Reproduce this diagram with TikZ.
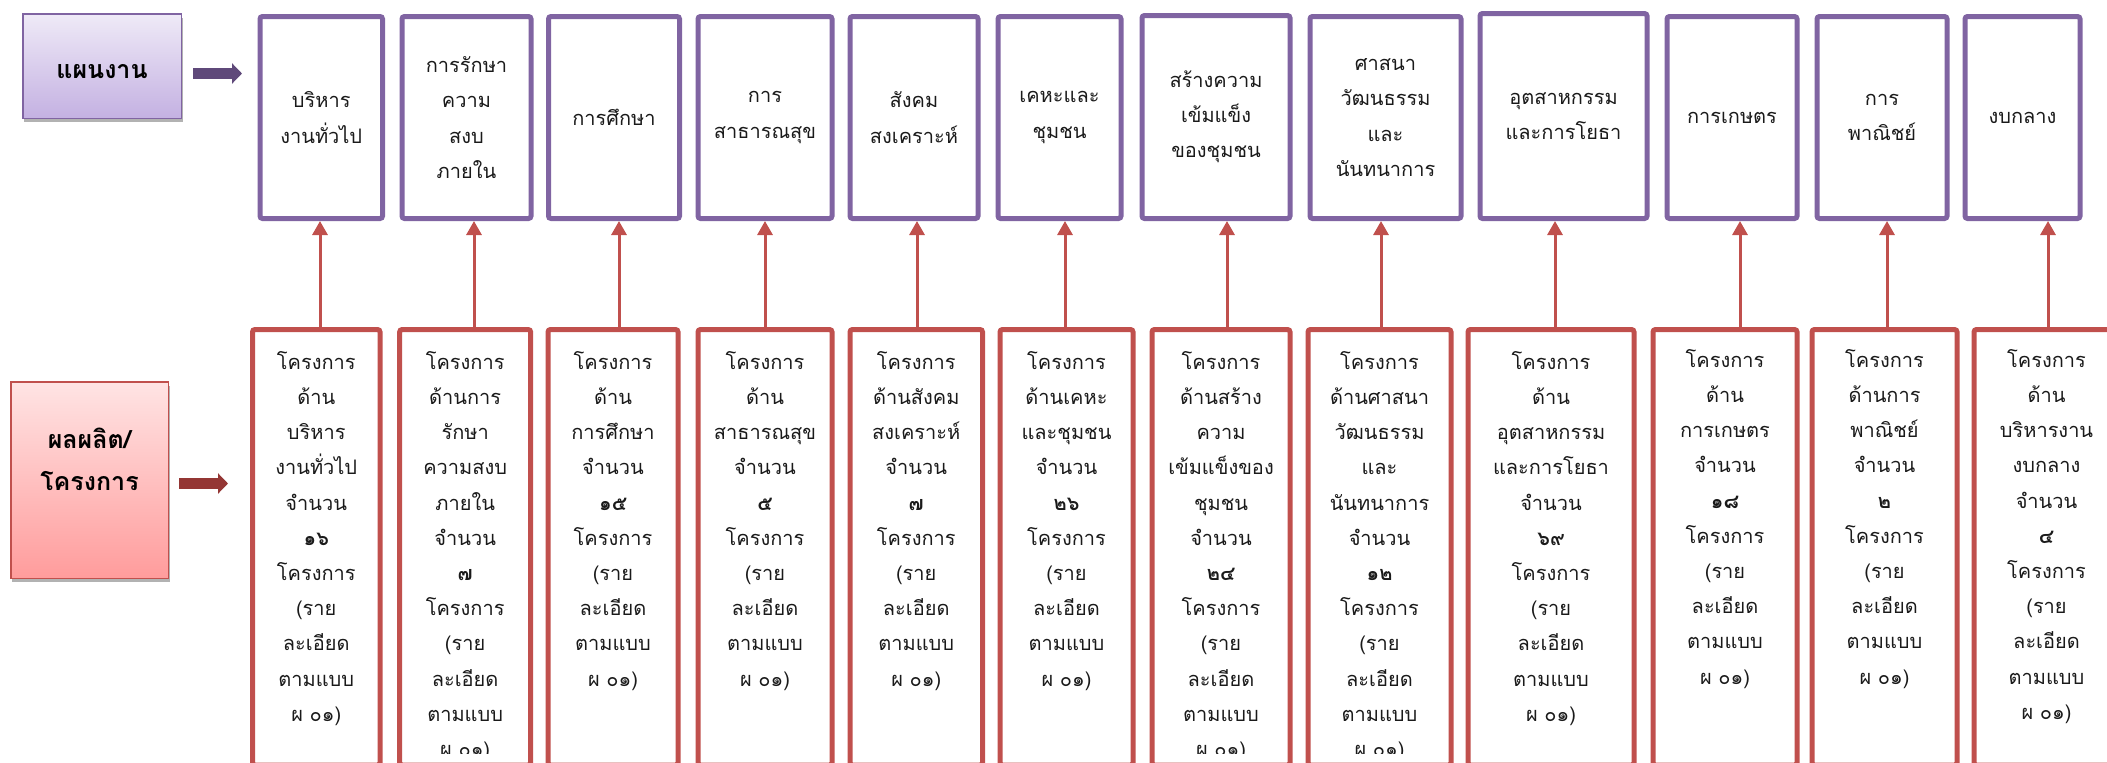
\documentclass[tikz,border=0pt]{standalone}
\usepackage{fontspec}
\newfontfamily\thaifont[Script=Thai]{Loma}
\usetikzlibrary{arrows.meta,shadows}
\definecolor{pbord}{HTML}{8064A2}
\definecolor{rbord}{HTML}{C0504D}
\definecolor{parrow}{HTML}{5F497A}
\definecolor{rarrow}{HTML}{943634}
\definecolor{ptop}{HTML}{EFEAF7}
\definecolor{pbot}{HTML}{C4B1E2}
\definecolor{rtop}{HTML}{FFE4E4}
\definecolor{rbot}{HTML}{FF9C9C}
\definecolor{txt}{HTML}{1A1A1A}
\tikzset{
  body/.style={font=\thaifont\fontsize{20}{35.2}\selectfont, text=txt},
  tbox/.style={rectangle, draw=pbord, line width=5pt, rounded corners=2.5pt, align=center, body, inner sep=0pt},
  bbox/.style={rectangle, draw=rbord, line width=5pt, rounded corners=2.5pt, inner sep=0pt, minimum height=435.5pt},
  btext/.style={body, anchor=north, align=center, inner sep=0pt},
  conn/.style={draw=rbord, line width=3pt, -{Triangle[width=15pt,length=14pt]}},
  lblbox/.style={rectangle, line width=1.5pt, align=center, inner sep=0pt,
    font=\thaifont\bfseries\fontsize{25}{42}\selectfont, text=black,
    drop shadow={shadow xshift=1.5pt, shadow yshift=-4pt, fill=black, opacity=0.3}},
  blockarrow/.style={line width=11pt, -{Triangle[width=20pt,length=10pt]}}
}
\begin{document}
\begin{tikzpicture}[x=1pt,y=-1pt]
\useasboundingbox (0,0) rectangle (2107,763);
\clip (0,0) rectangle (2107,763);

% left labels
\node[lblbox, draw=pbord, top color=ptop, bottom color=pbot, minimum width=158.5pt, minimum height=104.5pt] (plan) at (102,66) {\raisebox{-6pt}[\height][\depth]{แผนงาน}};
\node[lblbox, draw=rbord, top color=rtop, bottom color=rbot, minimum width=157.5pt, minimum height=196.5pt] (prod) at (89.5,480) {ผลผลิต/\\โครงการ\\\mbox{}};

\coordinate (pa) at (193,73.5);
\coordinate (pb) at (242,73.5);
\coordinate (ra) at (179,483.5);
\coordinate (rb) at (228,483.5);
\draw[blockarrow, draw=parrow] (pa) -- (pb);
\draw[blockarrow, draw=rarrow] (ra) -- (rb);

% top boxes
\node[tbox, minimum width=122.5pt, minimum height=202pt] (t1) at (321.25,117.5) {บริหาร\\งานทั่วไป};
\node[tbox, minimum width=129pt, minimum height=202pt] (t2) at (466.5,117.5) {การรักษา\\ความ\\สงบ\\ภายใน};
\node[tbox, minimum width=131pt, minimum height=202pt] (t3) at (614,117.5) {การศึกษา};
\node[tbox, minimum width=134pt, minimum height=202pt] (t4) at (765,117.5) {การ\\สาธารณสุข};
\node[tbox, minimum width=128pt, minimum height=202pt] (t5) at (914,117.5) {สังคม\\สงเคราะห์};
\node[tbox, minimum width=123pt, minimum height=202pt] (t6) at (1059.5,117.5) {เคหะและ\\ชุมชน};
\node[tbox, minimum width=148pt, minimum height=203pt] (t7) at (1216,117) {สร้างความ\\เข้มแข็ง\\ของชุมชน};
\node[tbox, minimum width=151pt, minimum height=202pt] (t8) at (1385.5,117.5) {ศาสนา\\วัฒนธรรม\\และ\\นันทนาการ};
\node[tbox, minimum width=167pt, minimum height=205pt] (t9) at (1563.5,116) {อุตสาหกรรม\\และการโยธา};
\node[tbox, minimum width=130pt, minimum height=202pt] (t10) at (1732,117.5) {การเกษตร};
\node[tbox, minimum width=130pt, minimum height=202pt] (t11) at (1882,117.5) {การ\\พาณิชย์};
\node[tbox, minimum width=115pt, minimum height=202pt] (t12) at (2022.5,117.5) {งบกลาง};

% bottom boxes
\node[bbox, minimum width=127.5pt] (b1) at (316.25,547.25) {};
\node[bbox, minimum width=131pt] (b2) at (465.15,547.25) {};
\node[bbox, minimum width=130pt] (b3) at (613,547.25) {};
\node[bbox, minimum width=134pt] (b4) at (765,547.25) {};
\node[bbox, minimum width=132.5pt] (b5) at (916.25,547.25) {};
\node[bbox, minimum width=133pt] (b6) at (1066.5,547.25) {};
\node[bbox, minimum width=138pt] (b7) at (1221,547.25) {};
\node[bbox, minimum width=143pt] (b8) at (1379.5,547.25) {};
\node[bbox, minimum width=166pt] (b9) at (1551,547.25) {};
\node[bbox, minimum width=144pt] (b10) at (1725,547.25) {};
\node[bbox, minimum width=145pt] (b11) at (1884.5,547.25) {};
\node[bbox, minimum width=145pt] (b12) at (2046.5,547.25) {};

% bottom texts (clipped like the reference)
\begin{scope}
\clip (0,0) rectangle (2107,753);
\node[btext, text width=115pt] (x1) at (316.25,345) {\rule{0pt}{24pt}โครงการ\\ด้าน\\บริหาร\\งานทั่วไป\\จำนวน\\{\bfseries ๑๖}\\โครงการ\\(ราย\\ละเอียด\\ตามแบบ\\ผ ๐๑)};
\node[btext, text width=120pt] (x2) at (465.15,345) {\rule{0pt}{24pt}โครงการ\\ด้านการ\\รักษา\\ความสงบ\\ภายใน\\จำนวน\\{\bfseries ๗}\\โครงการ\\(ราย\\ละเอียด\\ตามแบบ\\ผ ๐๑)};
\node[btext, text width=120pt] (x3) at (613,345) {\rule{0pt}{24pt}โครงการ\\ด้าน\\การศึกษา\\จำนวน\\{\bfseries ๑๕}\\โครงการ\\(ราย\\ละเอียด\\ตามแบบ\\ผ ๐๑)};
\node[btext, text width=125pt] (x4) at (765,345) {\rule{0pt}{24pt}โครงการ\\ด้าน\\สาธารณสุข\\จำนวน\\{\bfseries ๕}\\โครงการ\\(ราย\\ละเอียด\\ตามแบบ\\ผ ๐๑)};
\node[btext, text width=125pt] (x5) at (916.25,345) {\rule{0pt}{24pt}โครงการ\\ด้านสังคม\\สงเคราะห์\\จำนวน\\{\bfseries ๗}\\โครงการ\\(ราย\\ละเอียด\\ตามแบบ\\ผ ๐๑)};
\node[btext, text width=125pt] (x6) at (1066.5,345) {\rule{0pt}{24pt}โครงการ\\ด้านเคหะ\\และชุมชน\\จำนวน\\{\bfseries ๒๖}\\โครงการ\\(ราย\\ละเอียด\\ตามแบบ\\ผ ๐๑)};
\node[btext, text width=130pt] (x7) at (1221,345) {\rule{0pt}{24pt}โครงการ\\ด้านสร้าง\\ความ\\เข้มแข็งของ\\ชุมชน\\จำนวน\\{\bfseries ๒๔}\\โครงการ\\(ราย\\ละเอียด\\ตามแบบ\\ผ ๐๑)};
\node[btext, text width=135pt] (x8) at (1379.5,345) {\rule{0pt}{24pt}โครงการ\\ด้านศาสนา\\วัฒนธรรม\\และ\\นันทนาการ\\จำนวน\\{\bfseries ๑๒}\\โครงการ\\(ราย\\ละเอียด\\ตามแบบ\\ผ ๐๑)};
\node[btext, text width=155pt] (x9) at (1551,345) {\rule{0pt}{24pt}โครงการ\\ด้าน\\อุตสาหกรรม\\และการโยธา\\จำนวน\\{\bfseries ๖๙}\\โครงการ\\(ราย\\ละเอียด\\ตามแบบ\\ผ ๐๑)};
\node[btext, text width=135pt] (x10) at (1725,343) {\rule{0pt}{24pt}โครงการ\\ด้าน\\การเกษตร\\จำนวน\\{\bfseries ๑๘}\\โครงการ\\(ราย\\ละเอียด\\ตามแบบ\\ผ ๐๑)};
\node[btext, text width=135pt] (x11) at (1884.5,343) {\rule{0pt}{24pt}โครงการ\\ด้านการ\\พาณิชย์\\จำนวน\\{\bfseries ๒}\\โครงการ\\(ราย\\ละเอียด\\ตามแบบ\\ผ ๐๑)};
\node[btext, text width=135pt] (x12) at (2046.5,343) {\rule{0pt}{24pt}โครงการ\\ด้าน\\บริหารงาน\\งบกลาง\\จำนวน\\{\bfseries ๔}\\โครงการ\\(ราย\\ละเอียด\\ตามแบบ\\ผ ๐๑)};
\end{scope}

% connectors
\coordinate (c1) at (320,0);
\coordinate (c2) at (474,0);
\coordinate (c3) at (619,0);
\coordinate (c4) at (765,0);
\coordinate (c5) at (917,0);
\coordinate (c6) at (1065,0);
\coordinate (c7) at (1227,0);
\coordinate (c8) at (1381,0);
\coordinate (c9) at (1555,0);
\coordinate (c10) at (1740,0);
\coordinate (c11) at (1887,0);
\coordinate (c12) at (2048,0);
\foreach \i in {1,...,12}{
  \draw[conn] (b\i.north -| c\i) -- (t\i.south -| c\i);
}
\end{tikzpicture}
\end{document}
